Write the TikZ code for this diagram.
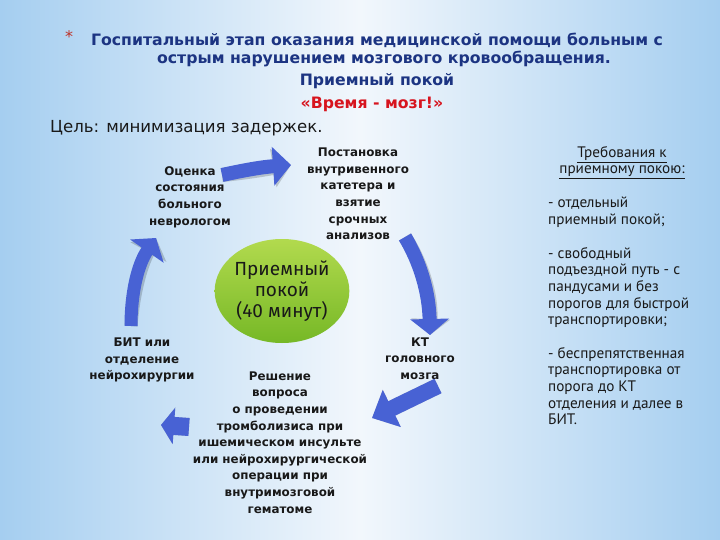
\documentclass[tikz,border=0pt]{standalone}
\usepackage{fontspec}
\setmainfont{DejaVu Sans}
\newfontfamily\dejavu{DejaVu Sans}
\newfontfamily\ptsans{PT Sans}
\newfontfamily\fira{Fira Sans}
\usetikzlibrary{arrows.meta,shapes.geometric}
\definecolor{bgblue}{RGB}{165,206,240}
\definecolor{bgwhite}{RGB}{242,247,252}
\definecolor{titleblue}{RGB}{28,52,130}
\definecolor{titlered}{RGB}{215,20,30}
\definecolor{starred}{RGB}{190,50,40}
\definecolor{arrowblue}{RGB}{72,98,212}
\definecolor{greentop}{RGB}{178,218,78}
\definecolor{greenbot}{RGB}{118,184,38}
\definecolor{txtdark}{RGB}{25,25,25}
\begin{document}
\begin{tikzpicture}[x=1pt,y=-1pt,
  title/.style={font=\dejavu\bfseries\fontsize{15.7}{18}\selectfont, text=titleblue, inner sep=0pt, anchor=center},
  lbl/.style={font=\dejavu\bfseries\fontsize{11.9}{16.6}\selectfont, align=center, inner sep=0pt, text=txtdark},
  req/.style={font=\ptsans\fontsize{15.2}{16.6}\selectfont, align=left, inner sep=0pt, text=txtdark, anchor=north west},
  shadowline/.style={draw=black, opacity=0.18},
  arrowline/.style={draw=arrowblue}
]
\useasboundingbox (0,0) rectangle (720,540);
\shade[left color=bgblue, right color=bgblue, middle color=bgwhite] (0,0) rectangle (720,540);

% title
\node[font=\dejavu\fontsize{16}{18}\selectfont, text=starred, inner sep=0pt] (star) at (69,37) {*};
\node[title] (t1) at (377,40) {Госпитальный этап оказания медицинской помощи больным с};
\node[title] (t2) at (384,59) {острым нарушением мозгового кровообращения.};
\node[title] (t3) at (377,81) {Приемный покой};
\node[title, text=titlered] (t4) at (372,104) {«Время - мозг!»};
\node[font=\dejavu\fontsize{16.6}{18}\selectfont, text=txtdark, inner sep=0pt, anchor=west] (goal) at (50,128) {Цель: минимизация задержек.};

% central circle
\node[ellipse, minimum width=127pt, minimum height=104pt, top color=greentop, bottom color=greenbot, inner sep=0pt,
  font=\fira\fontsize{19}{21}\selectfont, text=txtdark, align=center] (room) at (282,291) {Приемный\\покой\\(40 минут)};

% stage labels
\node[lbl] (eval) at (190,197) {Оценка\\состояния\\больного\\неврологом};
\node[lbl] (cath) at (358,194) {Постановка\\внутривенного\\катетера и\\взятие\\срочных\\анализов};
\node[lbl] (ct) at (420,358.5) {КТ\\головного\\мозга};
\node[lbl] (dec) at (280,442.5) {Решение\\вопроса\\о проведении\\тромболизиса при\\ишемическом инсульте\\или нейрохирургической\\операции при\\внутримозговой\\гематоме};
\node[lbl] (icu) at (142,360) {БИТ или\\отделение\\нейрохирургии};

% requirements
\node[font=\ptsans\fontsize{15.2}{16}\selectfont, align=center, inner sep=0pt, text=txtdark] (reqh) at (622,163) {\underline{Требования к}\\\underline{приемному покою:}};
\node[req] (r1) at (548,197) {- отдельный\\приемный покой;};
\node[req] (r2) at (548,247) {- свободный\\подъездной путь - с\\пандусами и  без\\порогов для быстрой\\транспортировки;};
\node[req] (r3) at (548,347) {- беспрепятственная\\транспортировка от\\порога до КТ\\отделения и далее в\\БИТ.};

% arrow end points
\coordinate (a1s) at (222,175);
\coordinate (a1e) at (291,165);
\coordinate (a2s) at (405,237);
\coordinate (a2e) at (430,335);
\coordinate (a3s) at (438,386);
\coordinate (a3e) at (372,418);
\coordinate (a4s) at (189,427);
\coordinate (a4e) at (161,425);
\coordinate (a5s) at (131,326);
\coordinate (a5e) at (156,238);

% shadows
\begin{scope}[shift={(2.5,2.5)}]
\draw[shadowline, line width=14pt, -{Triangle[width=38pt,length=18pt]}] (a1s) .. controls (245,170) and (262,167) .. (a1e);
\draw[shadowline, line width=14pt, -{Triangle[width=38pt,length=16pt]}] (a2s) .. controls (420,262) and (429,292) .. (a2e);
\draw[shadowline, line width=16pt, -{Triangle[width=40pt,length=22pt]}] (a3s) -- (a3e);
\draw[shadowline, line width=18pt, -{Triangle[width=36pt,length=13pt]}] (a4s) -- (a4e);
\draw[shadowline, line width=13pt, -{Triangle[width=40pt,length=16pt]}] (a5s) .. controls (131,292) and (138,264) .. (a5e);
\end{scope}
% arrows
\draw[arrowline, line width=14pt, -{Triangle[width=38pt,length=18pt]}] (a1s) .. controls (245,170) and (262,167) .. (a1e);
\draw[arrowline, line width=14pt, -{Triangle[width=38pt,length=16pt]}] (a2s) .. controls (420,262) and (429,292) .. (a2e);
\draw[arrowline, line width=16pt, -{Triangle[width=40pt,length=22pt]}] (a3s) -- (a3e);
\draw[arrowline, line width=18pt, -{Triangle[width=36pt,length=13pt]}] (a4s) -- (a4e);
\draw[arrowline, line width=13pt, -{Triangle[width=40pt,length=16pt]}] (a5s) .. controls (131,292) and (138,264) .. (a5e);
\end{tikzpicture}
\end{document}
